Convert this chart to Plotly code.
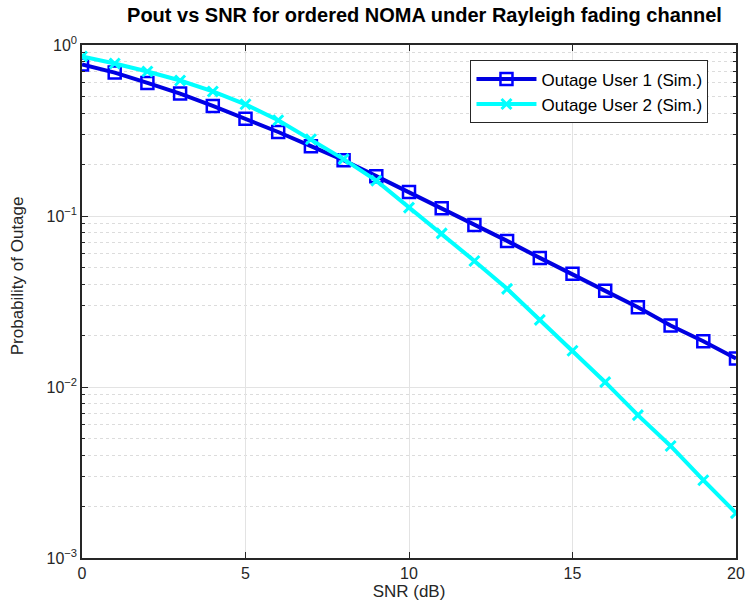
import plotly.graph_objects as go

snr = list(range(0, 21))
user1 = [0.77, 0.69, 0.60, 0.52, 0.44, 0.37, 0.31, 0.256, 0.212, 0.171, 0.138,
         0.111, 0.0887, 0.0715, 0.0569, 0.0459, 0.0365, 0.0293, 0.0229, 0.0185, 0.0147]
user2 = [0.857, 0.78, 0.70, 0.62, 0.535, 0.45, 0.363, 0.281, 0.215, 0.161, 0.112,
         0.0792, 0.0546, 0.0375, 0.0247, 0.0163, 0.01067, 0.00685, 0.00452, 0.00285, 0.00183]
names = ["Outage User 1 (Sim.)", "Outage User 2 (Sim.)"]
ytickvals = [1e-3, 1e-2, 1e-1, 1e0]
yticktext = ["10<sup>−3</sup>", "10<sup>−2</sup>", "10<sup>−1</sup>", "10<sup>0</sup>"]
xtickvals = [0, 5, 10, 15, 20]

minor_vals = [m * 10 ** e for e in (-3, -2, -1) for m in range(2, 10)]

FONT = "Liberation Sans, Arial, sans-serif"
fig = go.Figure()
fig.add_trace(go.Scatter(
    x=snr, y=user1, name=names[0], mode="lines+markers",
    line=dict(color="#0000E0", width=4),
    marker=dict(symbol="square-open", size=12, color="#0000FF", line=dict(width=2.5)),
))
fig.add_trace(go.Scatter(
    x=snr, y=user2, name=names[1], mode="lines+markers",
    line=dict(color="#00FFFF", width=4),
    marker=dict(symbol="x-thin-open", size=10, color="#00FFFF", line=dict(width=3, color="#00FFFF")),
))

axis_font = dict(family=FONT, size=16, color="#262626")
fig.update_layout(
    width=746, height=607,
    margin=dict(l=82, r=10, t=45, b=49, autoexpand=False),
    paper_bgcolor="white", plot_bgcolor="white",
    font=axis_font,
    title=dict(text="<b>Pout vs SNR for ordered NOMA under Rayleigh fading channel</b>",
               x=424.5 / 746, xanchor="center", y=1 - 15 / 607, yanchor="middle",
               font=dict(family=FONT, size=20, color="black")),
    showlegend=True,
    legend=dict(x=0.594, y=0.97, xanchor="left", yanchor="top",
                bgcolor="white", bordercolor="#262626", borderwidth=1,
                font=dict(family=FONT, size=17, color="black"),
                tracegroupgap=0, itemwidth=60),
    annotations=[dict(text="Probability of Outage", textangle=-90,
                      xref="paper", yref="paper", x=-(82 - 17) / 654, y=(558 - 276) / 513.5,
                      xanchor="center", yanchor="middle", showarrow=False,
                      font=dict(family=FONT, size=17, color="#262626"))],
)
fig.update_xaxes(
    range=[0, 20], tickvals=xtickvals, ticks="inside", ticklen=6, tickwidth=1,
    tickcolor="#262626", showline=True, linecolor="#262626", linewidth=1.5, mirror="ticks",
    showgrid=True, gridcolor="#E3E3E3", gridwidth=1, zeroline=False,
    title=dict(text="SNR (dB)", standoff=2, font=dict(family=FONT, size=17, color="#262626")),
    tickfont=axis_font,
)
fig.update_yaxes(
    type="log", range=[-3, 0], tickvals=ytickvals, ticktext=yticktext,
    ticks="inside", ticklen=6, tickwidth=1, tickcolor="#262626",
    showline=True, linecolor="#262626", linewidth=1.5, mirror="ticks",
    showgrid=True, gridcolor="#E3E3E3", gridwidth=1, zeroline=False,
    minor=dict(tickvals=minor_vals, ticks="inside", ticklen=3, tickcolor="#262626",
               showgrid=True, gridcolor="#DCDCDC", griddash="dot", gridwidth=1),
    tickfont=axis_font,
)
fig.write_html("out.html", config={"displayModeBar": False},
               post_script="document.body.style.margin='0';document.body.style.overflow='hidden';")
